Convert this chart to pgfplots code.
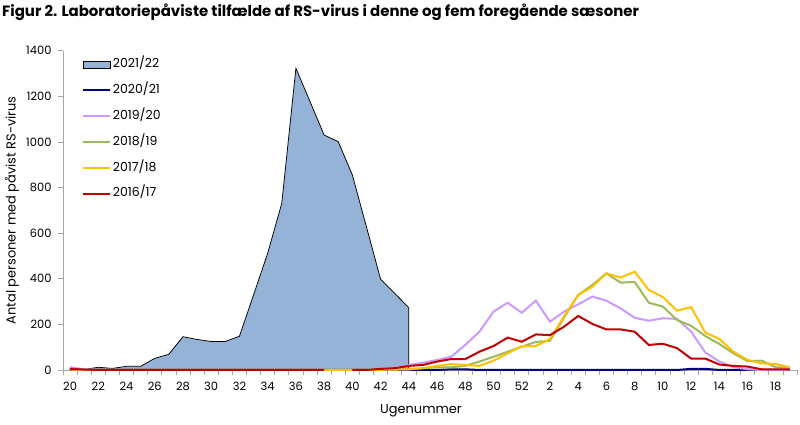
\documentclass[border=0pt]{standalone}
\usepackage{fontspec}
\setmainfont{Poppins}
\usepackage{pgfplots}
\pgfplotsset{compat=1.18}
\usepackage{pgfplotstable}
\definecolor{areablue}{HTML}{95B3D7}
\definecolor{cnavy}{HTML}{000080}
\definecolor{cpurple}{HTML}{CC99FF}
\definecolor{cgreen}{HTML}{9BBB59}
\definecolor{cyellow}{HTML}{FFC000}
\definecolor{cred}{HTML}{C00000}
\definecolor{axgray}{HTML}{A6A6A6}

% x = position (0 = week 20, 32 = week 52, 33 = week 1, 51 = week 19)
\pgfplotstableread{
x y
0 3
1 2
2 12
3 7
4 16
5 16
6 51
7 69
8 146
9 134
10 125
11 125
12 148
13 329
14 512
15 731
16 1323
17 1177
18 1030
19 1001
20 855
21 627
22 398
23 336
24 273
}\tabA

\pgfplotstableread{
x y
0 0
1 0
2 0
3 0
4 0
5 0
6 0
7 0
8 0
9 0
10 0
11 0
12 0
13 0
14 0
15 0
16 0
17 0
18 0
19 0
20 0
21 0
22 0
23 0
24 0
25 0
26 0
27 3
28 3
29 0
30 0
31 0
32 0
33 0
34 0
35 0
36 0
37 0
38 0
39 0
40 0
41 0
42 0
43 0
44 5
45 5
46 0
47 0
48 0
49 0
50 0
51 0
}\tabB

\pgfplotstableread{
x y
0 12
1 3
2 0
3 0
4 0
5 0
6 0
7 0
8 0
9 0
10 0
11 0
12 0
13 0
14 2
15 0
16 0
17 0
18 0
19 0
20 0
21 0
22 3
23 12
24 22
25 32
26 44
27 58
28 110
29 168
30 256
31 295
32 251
33 304
34 212
35 256
36 288
37 322
38 304
39 270
40 229
41 216
42 227
43 224
44 168
45 77
46 37
47 12
48 3
49 0
50 0
51 0
}\tabC

\pgfplotstableread{
x y
0 3
1 0
2 0
3 0
4 0
5 0
6 0
7 0
8 0
9 0
10 0
11 0
12 0
13 0
14 0
15 0
16 0
17 0
18 0
19 0
20 0
21 0
22 1
23 2
24 3
25 8
26 12
27 12
28 18
29 37
30 58
31 80
32 102
33 123
34 128
35 230
36 329
37 373
38 424
39 383
40 386
41 295
42 278
43 219
44 194
45 149
46 114
47 73
48 39
49 41
50 12
51 12
}\tabD

\pgfplotstableread{
x y
0 2
1 0
2 0
3 0
4 0
5 0
6 0
7 0
8 0
9 0
10 0
11 0
12 0
13 0
14 0
15 0
16 0
17 0
18 0
19 0
20 0
21 0
22 1
23 2
24 3
25 8
26 18
27 26
28 22
29 18
30 41
31 73
32 105
33 105
34 136
35 235
36 329
37 365
38 424
39 405
40 431
41 351
42 320
43 260
44 276
45 164
46 136
47 80
48 44
49 29
50 26
51 12
}\tabE

\pgfplotstableread{
x y
0 5
1 2
2 0
3 0
4 0
5 0
6 0
7 0
8 0
9 0
10 0
11 0
12 0
13 0
14 0
15 0
16 0
17 0
18 0
19 nan
20 0
21 0
22 5
23 8
24 18
25 22
26 37
27 48
28 48
29 80
30 105
31 142
32 124
33 156
34 153
35 190
36 237
37 202
38 178
39 178
40 168
41 110
42 115
43 96
44 50
45 50
46 24
47 18
48 15
49 3
50 3
51 3
}\tabF

\begin{document}
\begin{tikzpicture}
\useasboundingbox (0,0) rectangle (800bp,425bp);
\node[anchor=base west, inner sep=0pt, font=\bfseries\fontsize{15}{17}\selectfont] at (2bp,408bp)
  {Figur 2. Laboratoriepåviste tilfælde af RS-virus i denne og fem foregående sæsoner};
\begin{axis}[
  at={(63bp,55bp)}, anchor=south west,
  scale only axis, width=734bp, height=319.3bp,
  xmin=-0.5, xmax=51.5, ymin=0, ymax=1400,
  axis x line*=bottom, axis y line*=left,
  axis line style={draw=axgray, line width=0.75bp},
  /pgf/number format/assume math mode=true,
  ticklabel style={font=\fontsize{11.5}{13}\selectfont, text=black},
  xtick={0,2,...,50},
  xticklabels={20,22,24,26,28,30,32,34,36,38,40,42,44,46,48,50,52,2,4,6,8,10,12,14,16,18},
  major x tick style={draw=none},
  minor xtick={-0.5,0.5,...,51.5},
  minor x tick style={draw=axgray, line width=0.75bp},
  minor tick length=5bp,
  ytick={0,200,...,1400},
  y tick style={draw=axgray, line width=0.75bp},
  major tick length=5bp,
  tick align=outside,
  yticklabel style={/pgf/number format/1000 sep={}, xshift=-3bp},
  xticklabel style={yshift=-4bp},
  xlabel={Ugenummer},
  xlabel style={font=\fontsize{13}{15}\selectfont, at={(axis description cs:0.5,0)}, anchor=center, yshift=-41bp, xshift=-9bp},
  ylabel={Antal personer med påvist RS-virus},
  ylabel style={font=\fontsize{13}{15}\selectfont, at={(axis description cs:-0.0695,0.5)}, anchor=center},
  unbounded coords=jump,
  legend style={draw=none, fill=none, at={(0.0255,0.975)}, anchor=north west,
    inner sep=0pt, row sep=14.3bp, font=\fontsize{12.5}{14}\selectfont,
    nodes={inner ysep=0pt, text height=9bp, text depth=2.5bp}},
  legend cell align=left,
  /tikz/every even column/.append style={column sep=7bp},
  legend image code/.code={\draw[#1] (0bp,0bp) -- (27bp,0bp);},
  clip=false,
]
\addplot[fill=areablue, draw=black, line width=0.75bp,
  legend image code/.code={\draw[fill=areablue, draw=black, line width=0.75bp] (0bp,-3.5bp) rectangle (27bp,3.5bp);}]
  table[x=x,y=y]{\tabA} \closedcycle;
\addlegendentry{2021/22}
\addplot[cnavy, line width=2bp] table[x=x,y=y]{\tabB};
\addlegendentry{2020/21}
\addplot[cpurple, line width=2bp] table[x=x,y=y]{\tabC};
\addlegendentry{2019/20}
\addplot[cgreen, line width=2bp] table[x=x,y=y]{\tabD};
\addlegendentry{2018/19}
\addplot[cyellow, line width=2bp] table[x=x,y=y]{\tabE};
\addlegendentry{2017/18}
\addplot[cred, line width=2bp] table[x=x,y=y]{\tabF};
\addlegendentry{2016/17}
\end{axis}
\end{tikzpicture}
\end{document}
